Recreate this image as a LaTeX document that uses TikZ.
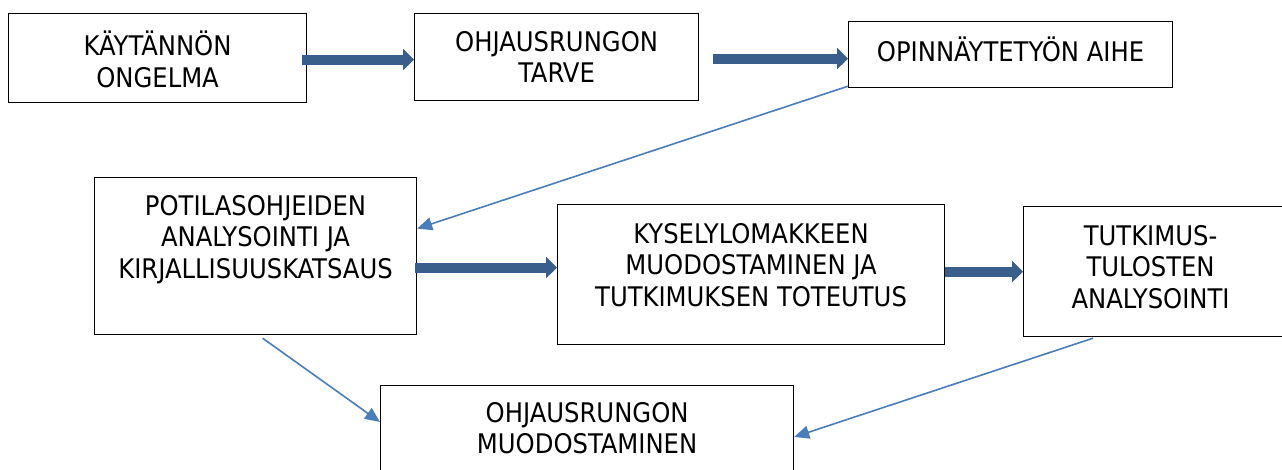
\documentclass[tikz,border=0pt]{standalone}
\usepackage{fontspec}
\setmainfont{DejaVu Sans Condensed}
\usetikzlibrary{arrows.meta,positioning}

\definecolor{flowblue}{RGB}{58,94,140}
\definecolor{linkblue}{RGB}{74,126,187}

\begin{document}
\begin{tikzpicture}[x=1pt, y=-1pt,
    box/.style={draw, line width=1.2pt, inner sep=0pt, anchor=north west},
    txt/.style={align=center, inner sep=0pt, font=\fontsize{27}{31.5}\selectfont},
    bigarrow/.style={draw=flowblue, line width=10pt, -{Triangle[length=11pt,width=21pt]}},
    thinarrow/.style={draw=linkblue, line width=1.6pt, -{Triangle[length=15pt,width=13pt]}}]
    \useasboundingbox (0,0) rectangle (1282,470);
    % Place boxes
    \node [box, minimum width=298pt, minimum height=89pt] (A) at (8,13) {};
    \node [box, minimum width=284pt, minimum height=87pt] (B) at (414,13) {};
    \node [box, minimum width=324pt, minimum height=66pt] (C) at (848,21) {};
    \node [box, minimum width=322pt, minimum height=157pt] (D) at (94,177) {};
    \node [box, minimum width=387pt, minimum height=140pt] (E) at (557,204) {};
    \node [box, minimum width=272pt, minimum height=130pt] (F) at (1023,206) {};
    \node [box, minimum width=413pt, minimum height=100pt] (G) at (380,385) {};
    % Texts
    \node [txt, below=18pt of A.north] (At) {KÄYTÄNNÖN\\ONGELMA};
    \node [txt, below=18pt of B.north] (Bt) {OHJAUSRUNGON\\TARVE};
    \node [txt, below=16pt of C.north] (Ct) {OPINNÄYTETYÖN AIHE};
    \node [txt, below=18pt of D.north] (Dt) {POTILASOHJEIDEN\\ANALYSOINTI JA\\KIRJALLISUUSKATSAUS};
    \node [txt, below=19pt of E.north] (Et) {KYSELYLOMAKKEEN\\MUODOSTAMINEN JA\\TUTKIMUKSEN TOTEUTUS};
    \node [txt, below=19pt of F.north, xshift=-9pt] (Ft) {TUTKIMUS-\\TULOSTEN\\ANALYSOINTI};
    \node [txt, below=17pt of G.north] (Gt) {OHJAUSRUNGON\\MUODOSTAMINEN};
    % Main flow
    \path [bigarrow] ([xshift=-5pt,yshift=-1.5pt]A.east) -- ([yshift=-1.5pt]A.east -| B.west);
    \path [bigarrow] ([xshift=14pt,yshift=-1.5pt]B.east) -- ([yshift=-1.5pt]B.east -| C.west);
    \path [bigarrow] ([xshift=-2pt,yshift=-11.5pt]D.east) -- ([yshift=-11.5pt]D.east -| E.west);
    \path [bigarrow] (F.west -| E.east) -- (F.west);
    % Side links
    \path [thinarrow] ([yshift=2pt]C.south west) -- ([yshift=27.5pt]D.east);
    \path [thinarrow] ([xshift=7pt,yshift=-3pt]D.south) -- ([yshift=-37pt]G.north west);
    \path [thinarrow] ([xshift=70pt,yshift=-1pt]F.south west) -- ([yshift=-52pt]G.north east);
\end{tikzpicture}
\end{document}
